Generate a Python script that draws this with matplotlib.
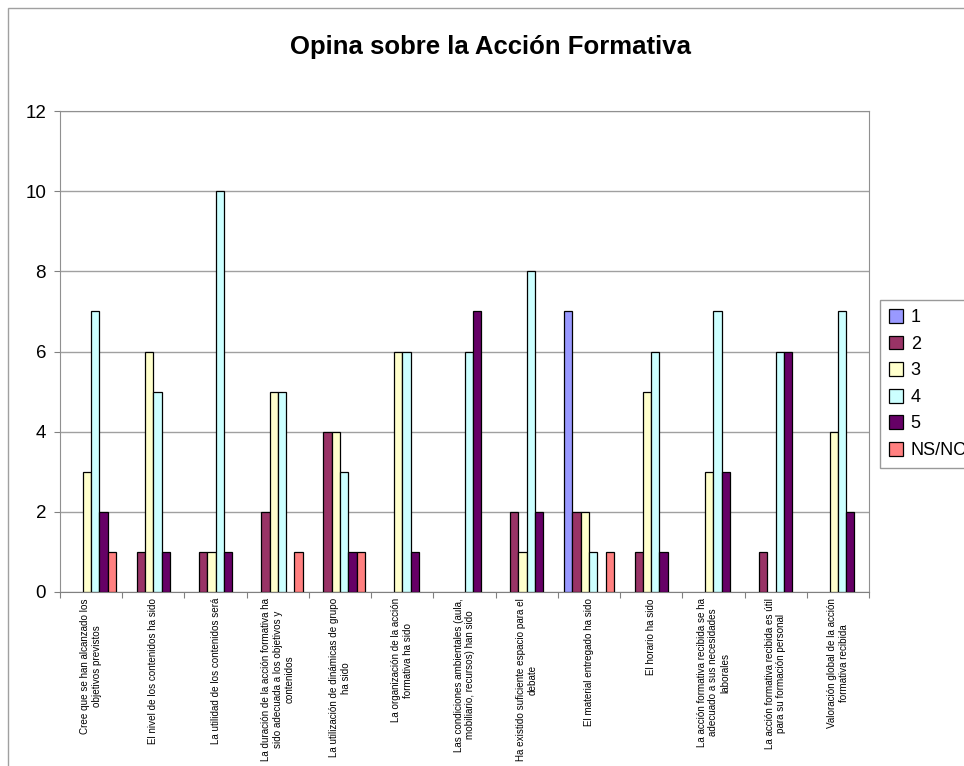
import numpy as np
import matplotlib
matplotlib.use('Agg')
import matplotlib.pyplot as plt
from matplotlib.patches import Rectangle

plt.rcParams['font.family'] = ['Liberation Sans', 'DejaVu Sans']

preguntas = [
    'Cree que se han alcanzado los\nobjetivos previstos',
    'El nivel de los contenidos ha sido',
    'La utilidad de los contenidos será',
    'La duración de la acción formativa ha\nsido adecuada a los objetivos y\ncontenidos',
    'La utilización de dinámicas de grupo\nha sido',
    'La organización de la acción\nformativa ha sido',
    'Las condiciones ambientales (aula,\nmobiliario, recursos) han sido',
    'Ha existido suficiente espacio para el\ndebate',
    'El material entregado ha sido',
    'El horario ha sido',
    'La acción formativa recibida se ha\nadecuado a sus necesidades\nlaborales',
    'La acción formativa recibida es útil\npara su formación personal',
    'Valoración global de la acción\nformativa recibida',
]

series = ['1', '2', '3', '4', '5', 'NS/NC']
v1 = [0, 0, 0, 0, 0, 0, 0, 0, 7, 0, 0, 0, 0]
v2 = [0, 1, 1, 2, 4, 0, 0, 2, 2, 1, 0, 1, 0]
v3 = [3, 6, 1, 5, 4, 6, 0, 1, 2, 5, 3, 0, 4]
v4 = [7, 5, 10, 5, 3, 6, 6, 8, 1, 6, 7, 6, 7]
v5 = [2, 1, 1, 0, 1, 1, 7, 2, 0, 1, 3, 6, 2]
vns = [1, 0, 0, 1, 1, 0, 0, 0, 1, 0, 0, 0, 0]
valores = [v1, v2, v3, v4, v5, vns]
colores = ['#9999FF', '#993366', '#FFFFCC', '#CCFFFF', '#660066', '#FF8080']

fig = plt.figure(figsize=(9.64, 7.66), dpi=100)
ax = fig.add_axes([60/964, 1 - 592/766, (869-60)/964, (592-111)/766])

# marco exterior del grafico
fig.patches.append(Rectangle((8/964, -0.1), 1.2, 1 - 8/766 + 0.1, transform=fig.transFigure,
                             fill=False, edgecolor='#a0a0a0', linewidth=1))

n = len(preguntas)
x = np.arange(n)
w = 1 / 7.5
for i, (s, vals, c) in enumerate(zip(series, valores, colores)):
    pos = x + (i - 2.5) * w
    h = np.array(vals, dtype=float)
    mask = h > 0
    ax.bar(pos[mask], h[mask], width=w, color=c, edgecolor='black', linewidth=0.9, zorder=3)
    ax.bar([np.nan], [0], width=w, color=c, edgecolor='black', linewidth=0.9, label=s)

ax.set_xlim(-0.5, n - 0.5)
ax.set_ylim(0, 12)
ax.set_yticks(range(0, 13, 2))
ax.tick_params(axis='y', labelsize=13.5, length=4, color='#808080', pad=6)
ax.grid(axis='y', color='#a0a0a0', linewidth=1, zorder=0)
for sp in ax.spines.values():
    sp.set_color('#909090')
ax.spines['bottom'].set_color('#808080')

ax.set_xticks(np.arange(n + 1) - 0.5)
ax.set_xticklabels([])
ax.tick_params(axis='x', length=4, color='#808080')
for xi, lab in zip(x, preguntas):
    ax.text(xi, -0.15, lab, rotation=90, ha='center', va='top', fontsize=7.1,
            multialignment='center')

fig.text(490/964, 1 - 47/766, 'Opina sobre la Acción Formativa', ha='center', va='center',
         fontsize=18.5, fontweight='bold')

leg = ax.legend(loc='upper left', bbox_to_anchor=(880/964, 1 - 300/766),
                bbox_transform=fig.transFigure, fontsize=13, frameon=True, fancybox=False,
                handlelength=0.8, handleheight=0.8, handletextpad=0.4, labelspacing=0.52,
                borderpad=0.5, borderaxespad=0)
leg.get_frame().set_edgecolor('#808080')
leg.get_frame().set_linewidth(1)

fig.savefig('out.png', dpi=100)
